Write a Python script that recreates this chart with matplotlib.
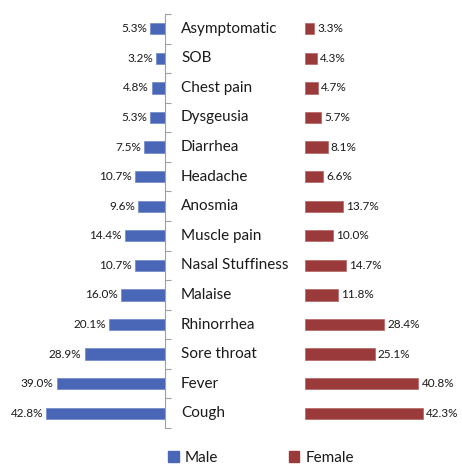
import matplotlib.pyplot as plt
from matplotlib.patches import Patch

symptoms = ['Asymptomatic', 'SOB', 'Chest pain', 'Dysgeusia', 'Diarrhea', 'Headache',
            'Anosmia', 'Muscle pain', 'Nasal Stuffiness', 'Malaise', 'Rhinorrhea',
            'Sore throat', 'Fever', 'Cough']
male = [5.3, 3.2, 4.8, 5.3, 7.5, 10.7, 9.6, 14.4, 10.7, 16.0, 20.1, 28.9, 39.0, 42.8]
female = [3.3, 4.3, 4.7, 5.7, 8.1, 6.6, 13.7, 10.0, 14.7, 11.8, 28.4, 25.1, 40.8, 42.3]

MALE_C = '#4A66B6'
FEMALE_C = '#9B3A3A'
TXT = '#1a1a1a'

plt.rcParams['font.family'] = ['Lato', 'DejaVu Sans']

W, H = 462, 465
fig = plt.figure(figsize=(W / 100, H / 100), dpi=100)

PX = 2.78  # pixels per percent
top, bot = 14, 428
ybot = 1 - bot / H
yh = (bot - top) / H

# male axes, bars grow left from spine at x=165
mlim = 55
mx1 = 165
axm = fig.add_axes([(mx1 - mlim * PX) / W, ybot, mlim * PX / W, yh])
# female axes, bars start at x=305
fx0 = 305
flim = 55
axf = fig.add_axes([fx0 / W, ybot, flim * PX / W, yh])

ypos = list(range(len(symptoms)))

axm.barh(ypos, male, height=0.38, color=MALE_C, edgecolor='#6f86c6', linewidth=0.5)
axm.set_xlim(mlim, 0)
axm.set_ylim(len(symptoms) - 0.5, -0.5)
for y, v in zip(ypos, male):
    axm.text(v + 1.1, y, '%.1f%%' % v, ha='right', va='center', fontsize=8.5, color=TXT)

axf.barh(ypos, female, height=0.38, color=FEMALE_C, edgecolor='#b36363', linewidth=0.5)
axf.set_xlim(0, flim)
axf.set_ylim(len(symptoms) - 0.5, -0.5)
for y, v in zip(ypos, female):
    axf.text(v + 1.1, y, '%.1f%%' % v, ha='left', va='center', fontsize=8.5, color=TXT)

for ax in (axm, axf):
    for s in ax.spines.values():
        s.set_visible(False)
    ax.set_xticks([])
    ax.set_yticks([])
    ax.patch.set_alpha(0)

# spine with tick marks on the male side
axm.spines['right'].set_visible(True)
axm.spines['right'].set_color('#a0a0a0')
axm.spines['right'].set_linewidth(0.8)
axm.yaxis.tick_right()
axm.set_yticks([i - 0.5 for i in range(len(symptoms) + 1)])
axm.set_yticklabels([])
axm.tick_params(axis='y', direction='out', length=4, width=0.8, color='#a0a0a0')

# category names between the two halves
for y, name in zip(ypos, symptoms):
    axm.annotate(name, xy=(1, y), xycoords=('axes fraction', 'data'),
                 xytext=(181 - mx1, 0), textcoords='offset pixels',
                 ha='left', va='center', fontsize=11, color=TXT)

handles = [Patch(color=MALE_C, label='Male'), Patch(color=FEMALE_C, label='Female')]
fig.legend(handles=handles, loc='center', bbox_to_anchor=(0.565, 1 - 458 / H), ncol=2,
           frameon=False, fontsize=11, handlelength=0.7, handleheight=0.7,
           handletextpad=0.4, columnspacing=4.6, labelcolor=TXT)

fig.savefig('out.png', dpi=100)
